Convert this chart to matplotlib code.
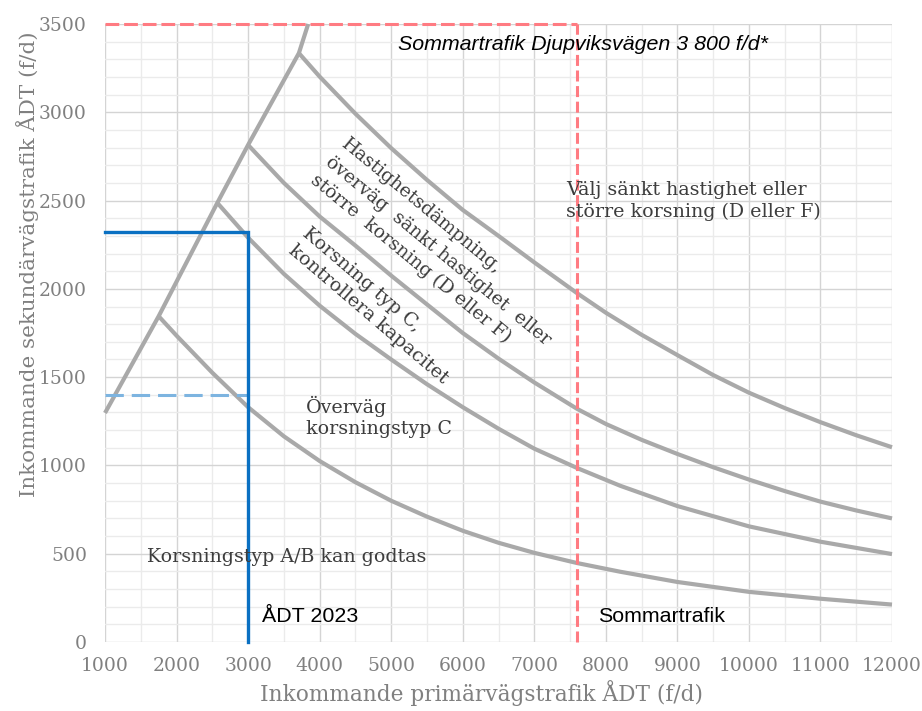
import matplotlib
matplotlib.use("Agg")
import matplotlib.pyplot as plt
from matplotlib.ticker import MultipleLocator

# ---- data ----
env_x = [1000, 1750, 2570, 3000, 3710, 3840]
env_y = [1297, 1845, 2487, 2815, 3335, 3500]

c1_x = [1750, 2000, 2500, 3000, 3500, 4000, 4500, 5000, 5500, 6000, 6500, 7000, 7600, 8200, 9000, 10000, 11000, 12000]
c1_y = [1845, 1735, 1525, 1330, 1165, 1025, 905, 800, 710, 630, 562, 505, 447, 398, 340, 284, 245, 212]

c2_x = [2570, 3000, 3500, 4000, 4500, 5000, 5500, 6000, 6500, 7000, 7600, 8200, 9000, 10000, 11000, 12000]
c2_y = [2487, 2290, 2085, 1905, 1745, 1600, 1460, 1330, 1208, 1095, 985, 885, 770, 655, 568, 498]

c3_x = [3000, 3500, 4000, 4500, 5000, 5500, 6000, 6500, 7000, 7600, 8000, 8500, 9000, 9500, 10000, 10500, 11000, 11500, 12000]
c3_y = [2815, 2600, 2410, 2245, 2075, 1912, 1750, 1605, 1470, 1320, 1235, 1145, 1065, 990, 920, 855, 795, 745, 700]

c4_x = [3710, 4000, 4500, 5000, 5500, 6000, 6500, 7000, 7600, 8000, 8500, 9000, 9500, 10000, 10500, 11000, 11500, 12000]
c4_y = [3335, 3202, 2992, 2797, 2617, 2447, 2300, 2150, 1975, 1865, 1740, 1625, 1512, 1412, 1325, 1245, 1171, 1103]

adt_2023_x = 3000
adt_2023_y = 2320
adt_dashed_y = 1400
summer_x = 7600

x_ticks = [1000, 2000, 3000, 4000, 5000, 6000, 7000, 8000, 9000, 10000, 11000, 12000]
y_ticks = [0, 500, 1000, 1500, 2000, 2500, 3000, 3500]

# ---- figure ----
fig = plt.figure(figsize=(9.22, 7.11), dpi=100)
ax = fig.add_axes([105/922, 1-642/711, (892-105)/922, (642-24)/711])
ax.set_xlim(1000, 12000)
ax.set_ylim(0, 3500)

ax.xaxis.set_minor_locator(MultipleLocator(500))
ax.yaxis.set_minor_locator(MultipleLocator(100))
ax.set_xticks(x_ticks)
ax.set_yticks(y_ticks)
ax.grid(which='major', color='#d4d4d4', linewidth=1.0, zorder=0)
ax.grid(which='minor', color='#ebebeb', linewidth=1.0, zorder=0)
ax.set_axisbelow(True)
for s in ax.spines.values():
    s.set_visible(False)
ax.tick_params(which='both', length=0)
ax.tick_params(axis='x', pad=11)
ax.tick_params(axis='y', pad=13)
for lab in ax.get_xticklabels() + ax.get_yticklabels():
    lab.set_fontfamily('DejaVu Serif')
    lab.set_fontsize(13.5)
    lab.set_color('#808080')

gray = '#a9a9a9'
lw = 3.0
for xs, ys in [(env_x, env_y), (c1_x, c1_y), (c2_x, c2_y), (c3_x, c3_y), (c4_x, c4_y)]:
    ax.plot(xs, ys, color=gray, linewidth=lw, solid_capstyle='butt', solid_joinstyle='round',
            zorder=2, clip_on=False)

# blue lines
blue = '#0a70c2'
ax.plot([1000, adt_2023_x, adt_2023_x], [adt_2023_y, adt_2023_y, 0], color=blue, linewidth=2.4,
        solid_joinstyle='miter', zorder=4, clip_on=False)
ax.plot([1000, adt_2023_x], [adt_dashed_y, adt_dashed_y], color='#7db4e0', linewidth=2.2,
        dashes=(6, 2.6), zorder=3)

# red dashed lines
red = '#ff7b82'
ax.plot([1000, summer_x], [3500, 3500], color=red, linewidth=2.2, dashes=(4.5, 1.6), zorder=4, clip_on=False)
ax.plot([summer_x, summer_x], [0, 3500], color=red, linewidth=2.2, dashes=(3.6, 1.5), zorder=4, clip_on=False)

# annotations
txtc = '#3d3d3d'
serif = 'DejaVu Serif'
fs = 13.7
ax.text(5095, 3386, 'Sommartrafik Djupviksvägen 3 800 f/d*', fontfamily='Liberation Sans',
        fontstyle='italic', fontsize=15.4, color='black', ha='left', va='center', zorder=5)
ax.text(7443, 2497, 'Välj sänkt hastighet eller\nstörre korsning (D eller F)', fontfamily=serif,
        fontsize=fs, color=txtc, ha='left', va='center', linespacing=1.25, zorder=5)
ax.text(3810, 1274, 'Överväg\nkorsningstyp C', fontfamily=serif, fontsize=fs, color=txtc,
        ha='left', va='center', linespacing=1.25, zorder=5)
ax.text(1587, 481, 'Korsningstyp A/B kan godtas', fontfamily=serif, fontsize=fs, color=txtc,
        ha='left', va='center', zorder=5)
ax.text(3194, 147, 'ÅDT 2023', fontfamily='Liberation Sans', fontsize=15.4, color='black',
        ha='left', va='center', zorder=5)
ax.text(7890, 147, 'Sommartrafik', fontfamily='Liberation Sans', fontsize=15.4, color='black',
        ha='left', va='center', zorder=5)
ax.text(5660, 2215, 'Hastighetsdämpning,\növerväg  sänkt hastighet  eller\nstörre  korsning (D eller F)',
        fontfamily=serif, fontsize=13.4, color=txtc, rotation=-39.5, rotation_mode='anchor',
        ha='center', va='center', multialignment='left', linespacing=1.4, zorder=5)
ax.text(4774, 1903, 'Korsning typ C,\nkontrollera kapacitet',
        fontfamily=serif, fontsize=fs, color=txtc, rotation=-40.5, rotation_mode='anchor',
        ha='center', va='center', multialignment='left', linespacing=1.3, zorder=5)

# axis labels
fig.text(481/922, 1-693/711, 'Inkommande primärvägstrafik ÅDT (f/d)', fontfamily=serif,
         fontsize=15.6, color='#808080', ha='center', va='center')
fig.text(28/922, 1-264/711, 'Inkommande sekundärvägstrafik ÅDT (f/d)', fontfamily=serif,
         fontsize=15.4, color='#808080', ha='center', va='center', rotation=90)

fig.savefig('out.png', dpi=100)
